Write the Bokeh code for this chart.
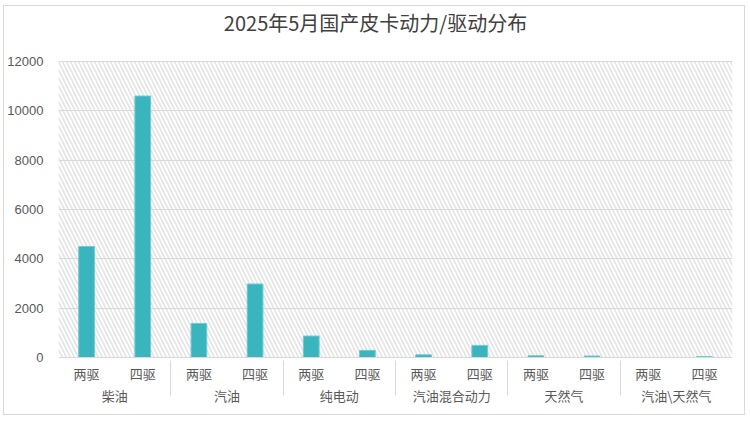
from bokeh.plotting import figure
from bokeh.models import FactorRange, ColumnDataSource, BoxAnnotation, FixedTicker, Label, Range1d
from bokeh.embed import file_html
from bokeh.resources import INLINE

title_text = "2025年5月国产皮卡动力/驱动分布"
groups = ["柴油", "汽油", "纯电动", "汽油混合动力", "天然气", "汽油\\天然气"]
drives = ["两驱", "四驱"]
values = [4500, 10600, 1380, 2980, 870, 290, 110, 490, 70, 60, 0, 40]
y_ticks = [0, 2000, 4000, 6000, 8000, 10000, 12000]
y_max = 12000

factors = [(g, d) for g in groups for d in drives]
src = ColumnDataSource(dict(x=factors, v=values))

FONT = "Noto Sans CJK SC"
W, H = 742, 410
BL, BR, BB = 54, 14, 59
TITLE_SPACE = 55                      # px between top of chart and top of plot area
FH = H - BB                           # frame spans to the top of the canvas
PLOT_H = FH - TITLE_SPACE             # height of the data area (0..12000)
y_end = y_max * FH / PLOT_H           # leave room above 12000 for the title

p = figure(
    width=W, height=H,
    x_range=FactorRange(*factors, group_padding=0, factor_padding=0, range_padding=0),
    y_range=Range1d(0, y_end),
    output_backend="svg", toolbar_location=None,
    min_border_left=BL, min_border_right=BR, min_border_top=0, min_border_bottom=BB,
)
p.styles = {"border": "1px solid #d9d9d9", "margin-left": "3px", "margin-top": "5px"}

p.outline_line_color = None
p.background_fill_color = "white"

# hatched plot background (only the 0..12000 data area)
hatch = BoxAnnotation(top=y_max, level="image", fill_color=None, line_color=None,
                      hatch_pattern="\\", hatch_color="#e2e2e2",
                      hatch_scale=8, hatch_weight=1.5)
p.add_layout(hatch)

p.vbar(x="x", top="v", width=0.28, source=src,
       fill_color="#3AB5BE", line_color="#6FCBD1", line_width=1)

# chart title (screen units are relative to the plot frame)
title = Label(x=W / 2 - BL, y=FH - 16, x_units="screen", y_units="screen",
              text=title_text, text_align="center", text_baseline="middle",
              text_font=FONT, text_font_size="20px", text_color="#404040",
              level="overlay")
p.add_layout(title)

p.ygrid.grid_line_color = "#d9d9d9"
p.ygrid.grid_line_width = 1
p.xgrid.grid_line_color = None

p.yaxis.ticker = FixedTicker(ticks=y_ticks)
p.yaxis.axis_line_color = None
p.yaxis.major_tick_line_color = None
p.yaxis.minor_tick_line_color = None
p.yaxis.major_label_text_font = "Liberation Sans"
p.yaxis.major_label_text_font_size = "13px"
p.yaxis.major_label_text_color = "#595959"
p.yaxis.major_label_standoff = 9

xa = p.xaxis[0]
xa.axis_line_color = "#d9d9d9"
xa.major_tick_line_color = None
xa.minor_tick_line_color = None
xa.major_label_text_font = FONT
xa.major_label_text_font_size = "13px"
xa.major_label_text_color = "#595959"
xa.major_label_standoff = 0
xa.group_text_font = FONT
xa.group_text_font_size = "13px"
xa.group_text_color = "#595959"
xa.group_text_font_style = "normal"
xa.separator_line_color = "#d9d9d9"
xa.separator_line_width = 1

open("out.html", "w").write(file_html(p, INLINE))
